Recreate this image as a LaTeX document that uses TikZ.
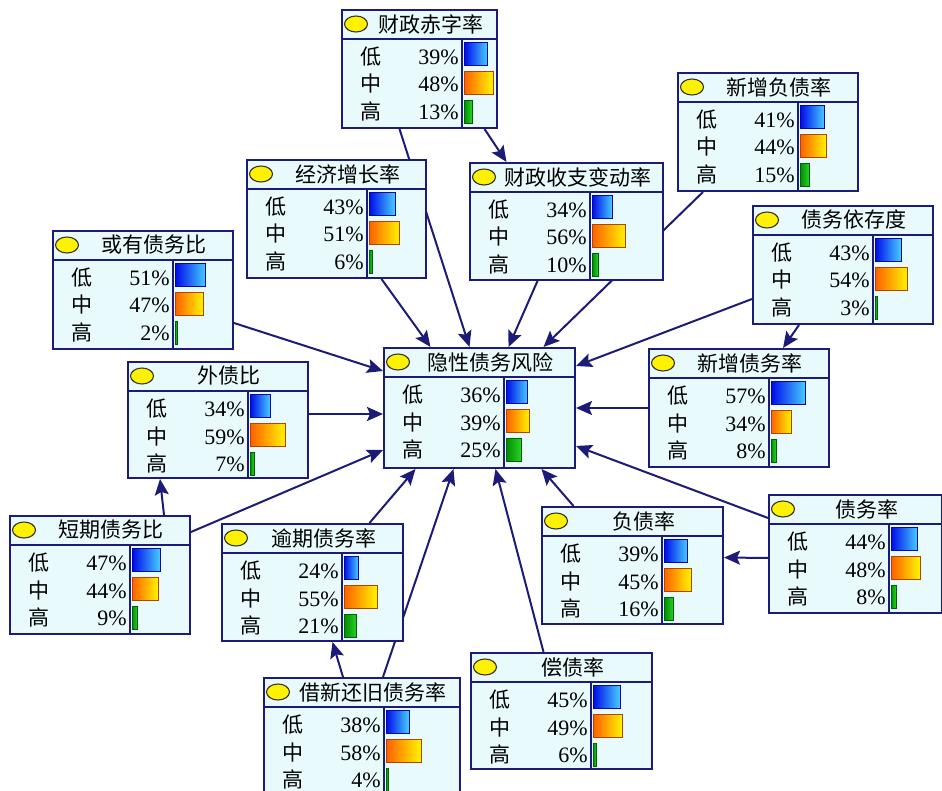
\documentclass[tikz,border=0pt]{standalone}
\usepackage{fontspec}
\setmainfont{Liberation Serif}
\newfontfamily\cjk{Noto Sans CJK SC}
\usepackage{tikz}
\usetikzlibrary{arrows.meta, backgrounds}

\definecolor{bnnavy}{RGB}{28,28,120}
\definecolor{bnfill}{RGB}{232,250,252}
\definecolor{bnblueL}{RGB}{0,10,235}
\definecolor{bnblueR}{RGB}{70,205,255}
\definecolor{bnorangeL}{RGB}{255,95,0}
\definecolor{bnorangeR}{RGB}{255,245,0}
\definecolor{bngreenL}{RGB}{0,140,0}
\definecolor{bngreenR}{RGB}{40,210,40}

\tikzset{
  bnbox/.style={draw=bnnavy, line width=2pt, fill=bnfill, inner sep=0pt, anchor=north west},
  bnline/.style={draw=bnnavy, line width=1.4pt},
  bnbulb/.style={draw=black!80!olive, line width=1.1pt, fill=yellow},
  bntitle/.style={font=\cjk\fontsize{21}{25}\selectfont, inner sep=0pt},
  bnlabel/.style={font=\cjk\fontsize{21}{25}\selectfont, inner sep=0pt, anchor=base},
  bnpct/.style={font=\fontsize{22}{26}\selectfont, inner sep=0pt, anchor=base east},
  bnlink/.style={draw=bnnavy, line width=2pt, -{Stealth[length=16pt, width=14pt, inset=3pt]}},
}

% name, left, top, width, height, title, three percentages
\newcommand{\bnnode}[9]{%
  \node[bnbox, minimum width=#4pt, minimum height=#5pt] (#1) at (#2,#3) {};
  \draw[bnline] (#2,#3+30) -- (#2+#4,#3+30);
  \draw[bnline] (#2+121,#3+30) -- (#2+121,#3+#5);
  \draw[bnbulb] (#2+15,#3+15) ellipse (11.5 and 8);
  \node[bntitle] at (#2+#4/2+12,#3+15) {#6};
  \foreach \lab/\p/\lc/\rc [count=\i] in {低/#7/bnblueL/bnblueR, 中/#8/bnorangeL/bnorangeR, 高/#9/bngreenL/bngreenR} {
    \pgfmathsetmacro{\bw}{max(2,0.6*\p)}
    \node[bnlabel] at (#2+30,#3+28+27.5*\i) {\lab};
    \node[bnpct] at (#2+118,#3+28+27.5*\i) {\p\%};
    \draw[draw=\lc!70!black, line width=0.6pt, left color=\lc, right color=\rc] (#2+123,#3+4.5+29*\i) rectangle ++(\bw,23);
  }
}

\begin{document}
\begin{tikzpicture}[x=1pt, y=-1pt]
\useasboundingbox (0,0) rectangle (942,791);
\clip (0,0) rectangle (942,791);

\bnnode{fczz}{341}{9}{155}{118}{财政赤字率}{39}{48}{13}
\bnnode{xzfz}{677}{72}{180}{118}{新增负债率}{41}{44}{15}
\bnnode{jjzz}{246}{159}{179}{118}{经济增长率}{43}{51}{6}
\bnnode{fcsz}{469}{162}{193}{117}{财政收支变动率}{34}{56}{10}
\bnnode{zyc}{752}{205}{180}{118}{债务依存度}{43}{54}{3}
\bnnode{hyzw}{52}{230}{180}{118}{或有债务比}{51}{47}{2}
\bnnode{yxfx}{383}{347}{191}{120}{隐性债务风险}{36}{39}{25}
\bnnode{wzb}{127}{361}{180}{116}{外债比}{34}{59}{7}
\bnnode{xzzw}{648}{348}{180}{118}{新增债务率}{57}{34}{8}
\bnnode{dqzw}{9}{515}{180}{118}{短期债务比}{47}{44}{9}
\bnnode{yqzw}{221}{523}{181}{117}{逾期债务率}{24}{55}{21}
\bnnode{fzl}{541}{506}{181}{117}{负债率}{39}{45}{16}
\bnnode{zwl}{768}{494}{173}{118}{债务率}{44}{48}{8}
\bnnode{jxhj}{263}{677}{196}{118}{借新还旧债务率}{38}{58}{4}
\bnnode{czl}{470}{652}{181}{116}{偿债率}{45}{49}{6}

\begin{scope}[on background layer]
\draw[bnlink] ([xshift=65pt]fczz.south) -- ([xshift=-60pt]fcsz.north);
\draw[bnlink] ([xshift=-20pt]fczz.south) -- ([xshift=-10pt]yxfx.north);
\draw[bnlink] ([xshift=45pt]jjzz.south) -- ([xshift=-49pt]yxfx.north);
\draw[bnlink] ([xshift=-29pt]fcsz.south) -- ([xshift=29pt]yxfx.north);
\draw[bnlink] ([xshift=-65pt]xzfz.south) -- ([xshift=64pt]yxfx.north);
\draw[bnlink] ([yshift=-34pt]zyc.west) -- ([yshift=42pt]yxfx.east);
\draw[bnlink] ([xshift=-44pt]zyc.south) -- ([xshift=44pt]xzzw.north);
\draw[bnlink] ([yshift=-33pt]hyzw.east) -- ([yshift=37pt]yxfx.west);
\draw[bnlink] ([yshift=6pt]wzb.east) -- ([yshift=-6pt]yxfx.west);
\draw[bnlink] (xzzw.west) -- (yxfx.east);
\draw[bnlink] ([xshift=64pt]dqzw.north) -- ([xshift=-58pt]wzb.south);
\draw[bnlink] ([yshift=43pt]dqzw.east) -- ([yshift=-42pt]yxfx.west);
\draw[bnlink] ([xshift=57pt]yqzw.north) -- ([xshift=-64pt]yxfx.south);
\draw[bnlink] ([xshift=-19pt]jxhj.north) -- ([xshift=20pt]yqzw.south);
\draw[bnlink] ([xshift=21pt]jxhj.north) -- ([xshift=-26pt]yxfx.south);
\draw[bnlink] ([xshift=-18pt]czl.north) -- ([xshift=16pt]yxfx.south);
\draw[bnlink] ([xshift=-59pt]fzl.north) -- ([xshift=62pt]yxfx.south);
\draw[bnlink] ([yshift=-4pt]zwl.west) -- ([yshift=8pt]fzl.east);
\draw[bnlink] ([yshift=36pt]zwl.west) -- ([yshift=-38pt]yxfx.east);
\end{scope}
\end{tikzpicture}
\end{document}
